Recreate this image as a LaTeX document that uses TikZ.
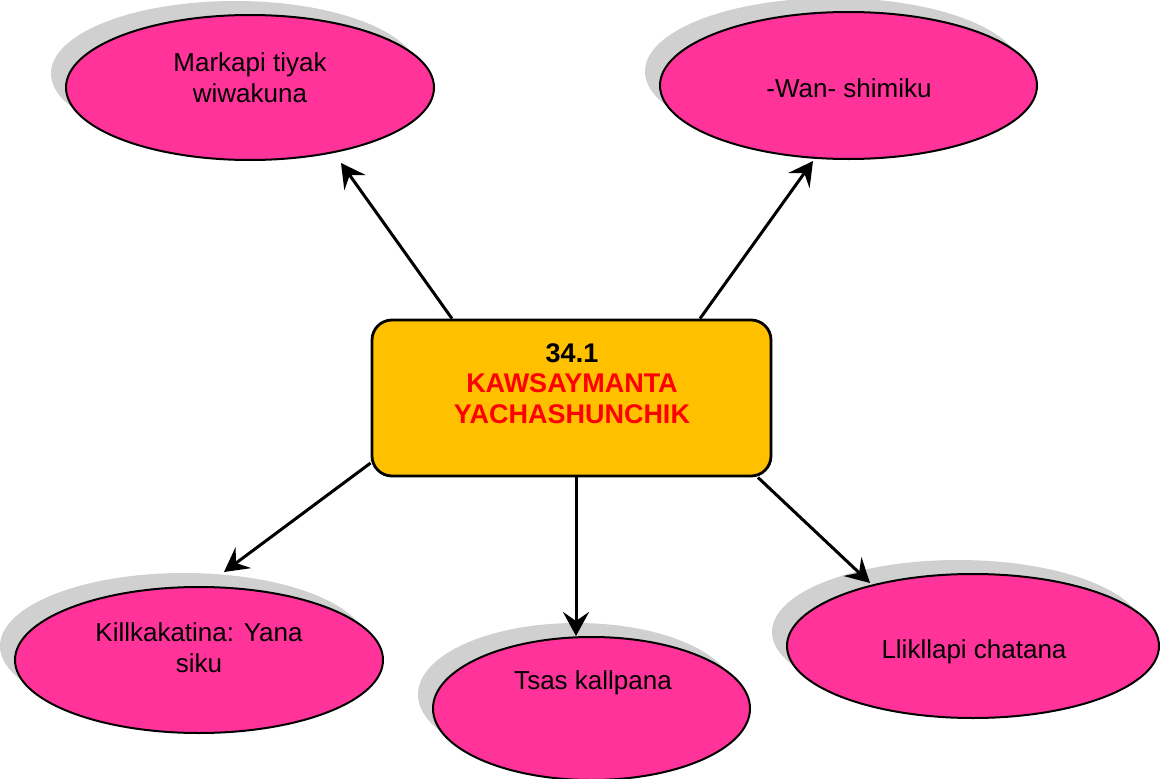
\documentclass[tikz,border=0pt]{standalone}
\usepackage{fontspec}
\setmainfont{Liberation Sans}
\usetikzlibrary{arrows.meta,shapes.geometric,shadows}
\definecolor{bubblepink}{HTML}{FF3399}
\definecolor{hubyellow}{HTML}{FFC000}
\definecolor{shadowgrey}{HTML}{D0D0D0}

\begin{document}
\begin{tikzpicture}[
    x=1pt,y=-1pt,
    bubble/.style={ellipse,draw,line width=2pt,fill=bubblepink,inner sep=0pt,
      drop shadow={shadow xshift=-15pt,shadow yshift=14pt,fill=shadowgrey,opacity=1}},
    bubbletext/.style={align=center,font=\fontsize{26}{31}\selectfont},
    hub/.style={rectangle,rounded corners=20pt,draw,line width=2.8pt,fill=hubyellow,
      minimum width=399pt,minimum height=156pt,inner sep=0pt},
    hubtext/.style={align=center,font=\bfseries\fontsize{27}{30.5}\selectfont},
    link/.style={-{Stealth[length=24pt,width=26pt,inset=9pt]},line width=3pt}
    ]

    \useasboundingbox (0,0) rectangle (1160,779);

    \node (hub) [hub] at (571.5,398) {};
    \node (hubtext) [hubtext] at (572,383.5) {34.1\\ \textcolor{red}{KAWSAYMANTA}\\ \textcolor{red}{YACHASHUNCHIK}};

    \node (markapi) [bubble,minimum width=368pt,minimum height=145pt] at (250,87.5) {};
    \node (markapitext) [bubbletext] at (250,77.5) {Markapi tiyak\\ wiwakuna};

    \node (wan) [bubble,minimum width=377pt,minimum height=147pt] at (848.5,85.5) {};
    \node (wantext) [bubbletext] at (849,88) {-Wan- shimiku};

    \node (killka) [bubble,minimum width=368pt,minimum height=146pt] at (199,660) {};
    \node (killkatext) [bubbletext] at (199,648) {Killkakatina: Yana\\ siku};

    \node (tsas) [bubble,minimum width=317pt,minimum height=143pt] at (591.5,708.5) {};
    \node (tsastext) [bubbletext] at (593,683) {Tsas kallpana};

    \node (llik) [bubble,minimum width=372pt,minimum height=144pt] at (973,646) {};
    \node (lliktext) [bubbletext] at (974,652) {Llikllapi chatana};

    \draw[link] ([xshift=-119.5pt]hub.north) -- ([xshift=91pt,yshift=-2pt]markapi.south);
    \draw[link] ([xshift=128.5pt]hub.north) -- ([xshift=-35.5pt,yshift=-1pt]wan.south);
    \draw[link] ([yshift=-65pt]hub.west) -- ([xshift=25pt,yshift=14pt]killka.north);
    \draw[link] ([xshift=4.5pt]hub.south) -- ([xshift=-15.5pt]tsas.north);
    \draw[link] ([xshift=-14.5pt]hub.south east) -- ([xshift=-103pt,yshift=-10pt]llik.north);

  \end{tikzpicture}
\end{document}
